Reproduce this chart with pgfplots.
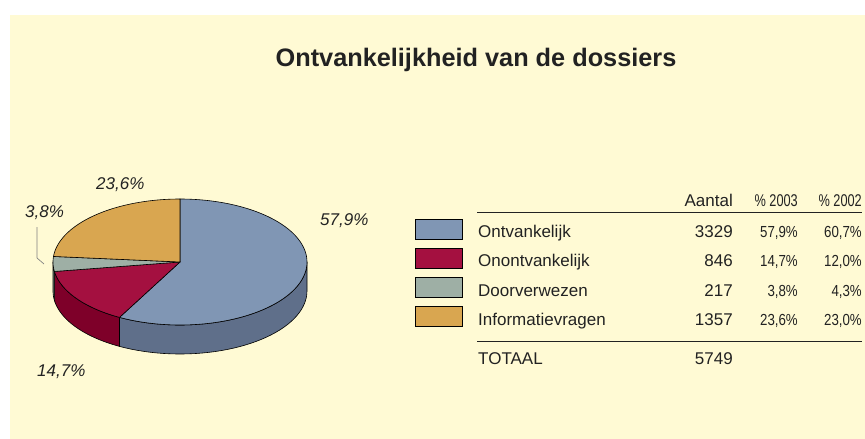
\documentclass[border=0pt]{standalone}
\usepackage{pgfplots}
\pgfplotsset{compat=1.18}
\usepackage{pgfplotstable}
\usepackage{fontspec}
\setmainfont{Liberation Sans}
\newfontfamily\condA[FakeStretch=0.75]{Liberation Sans}
\newfontfamily\condB[FakeStretch=0.83]{Liberation Sans}

\definecolor{bg}{RGB}{255,250,212}
\definecolor{cblue}{RGB}{128,150,180}
\definecolor{cblueD}{RGB}{95,111,138}
\definecolor{cred}{RGB}{164,16,64}
\definecolor{credD}{RGB}{126,0,41}
\definecolor{cgray}{RGB}{158,175,165}
\definecolor{cgrayD}{RGB}{110,125,115}
\definecolor{corange}{RGB}{217,166,80}
\definecolor{txt}{RGB}{34,34,34}

\pgfplotstableread{
name count p2003 p2002
Ontvankelijk 3329 57.9 60.7
Onontvankelijk 846 14.7 12.0
Doorverwezen 217 3.8 4.3
Informatievragen 1357 23.6 23.0
}\datatable

\def\cx{180}
\def\cy{262}
\def\rx{127}
\def\ry{63}
\def\dep{29}

\pgfplotstablegetelem{0}{p2003}\of\datatable \let\pA\pgfplotsretval
\pgfplotstablegetelem{1}{p2003}\of\datatable \let\pB\pgfplotsretval
\pgfplotstablegetelem{2}{p2003}\of\datatable \let\pC\pgfplotsretval
\pgfplotstablegetelem{3}{p2003}\of\datatable \let\pD\pgfplotsretval
\pgfmathsetmacro\aA{90-3.6*\pA}
\pgfmathsetmacro\aB{\aA-3.6*\pB}
\pgfmathsetmacro\aC{\aB-3.6*\pC}
\pgfmathsetmacro\aD{\aC-3.6*\pD}

\begin{document}%
\begin{tikzpicture}[every node/.append style={inner sep=0pt}]
\begin{axis}[width=865pt, height=439pt, scale only axis,
  xmin=0, xmax=865, ymin=0, ymax=439, y dir=reverse,
  hide axis, clip=false,
  declare function={angf(\t,\a,\b)=\a+(\b-\a)*min(\t,1)-(\b-\a)*max(min(\t,3)-2,0);
                    offf(\t)=\dep*(min(max(\t-1,0),1)-max(\t-3,0));}]
\fill[white] (rel axis cs:0,0) rectangle (rel axis cs:1,1);
\fill[bg] (axis cs:10,15) rectangle (axis cs:865,439);

% side faces
\addplot[fill=cblueD, draw=black, line width=0.6pt, variable=\t, domain=0:4, samples=161]
  ({\cx+\rx*cos(angf(\t,\aA,0))},{\cy+offf(\t)-\ry*sin(angf(\t,\aA,0))}) -- cycle;
\addplot[fill=credD, draw=black, line width=0.6pt, variable=\t, domain=0:4, samples=161]
  ({\cx+\rx*cos(angf(\t,\aB,\aA))},{\cy+offf(\t)-\ry*sin(angf(\t,\aB,\aA))}) -- cycle;
\addplot[fill=cgrayD, draw=black, line width=0.6pt, variable=\t, domain=0:4, samples=41]
  ({\cx+\rx*cos(angf(\t,-180,\aB))},{\cy+offf(\t)-\ry*sin(angf(\t,-180,\aB))}) -- cycle;

% top faces
\addplot[fill=cblue, draw=black, line width=0.6pt, domain=\aA:90, samples=120] ({\cx+\rx*cos(x)},{\cy-\ry*sin(x)}) -- (axis cs:\cx,\cy) -- cycle;
\addplot[fill=cred, draw=black, line width=0.6pt, domain=\aB:\aA, samples=50] ({\cx+\rx*cos(x)},{\cy-\ry*sin(x)}) -- (axis cs:\cx,\cy) -- cycle;
\addplot[fill=cgray, draw=black, line width=0.6pt, domain=\aC:\aB, samples=20] ({\cx+\rx*cos(x)},{\cy-\ry*sin(x)}) -- (axis cs:\cx,\cy) -- cycle;
\addplot[fill=corange, draw=black, line width=0.6pt, domain=\aD:\aC, samples=60] ({\cx+\rx*cos(x)},{\cy-\ry*sin(x)}) -- (axis cs:\cx,\cy) -- cycle;

% leader line
\addplot[draw=gray, line width=0.7pt] coordinates {(37,227) (37,258) (44,264)};

% pie labels
\node[anchor=base west, text=txt, font=\fontsize{17}{20}\selectfont\itshape] at (axis cs:320,225) {57,9\%};
\node[anchor=base west, text=txt, font=\fontsize{17}{20}\selectfont\itshape] at (axis cs:96,189) {23,6\%};
\node[anchor=base west, text=txt, font=\fontsize{17}{20}\selectfont\itshape] at (axis cs:25,217) {3,8\%};
\node[anchor=base west, text=txt, font=\fontsize{17}{20}\selectfont\itshape] at (axis cs:37,376) {14,7\%};

% title
\node[anchor=base, text=txt, font=\fontsize{25.3}{29}\selectfont\bfseries] at (axis cs:476,66) {Ontvankelijkheid van de dossiers};

% table
\addplot[draw=txt, line width=0.8pt] coordinates {(477,212) (862,212)};
\addplot[draw=txt, line width=0.8pt] coordinates {(477,341) (862,341)};
\node[anchor=base east, text=txt, font=\fontsize{17}{20}\selectfont] at (axis cs:733,206) {Aantal};
\node[anchor=base east, text=txt, font=\fontsize{17}{20}\selectfont\condA] at (axis cs:798,206) {\% 2003};
\node[anchor=base east, text=txt, font=\fontsize{17}{20}\selectfont\condA] at (axis cs:862,206) {\% 2002};

\addplot[fill=cblue, draw=black, line width=1pt] coordinates {(415,219) (462,219) (462,239) (415,239)} -- cycle;
\addplot[fill=cred, draw=black, line width=1pt] coordinates {(415,248) (462,248) (462,268) (415,268)} -- cycle;
\addplot[fill=cgray, draw=black, line width=1pt] coordinates {(415,277) (462,277) (462,297) (415,297)} -- cycle;
\addplot[fill=corange, draw=black, line width=1pt] coordinates {(415,306) (462,306) (462,326) (415,326)} -- cycle;

\node[anchor=base west, text=txt, font=\fontsize{17}{20}\selectfont] at (axis cs:478,237) {Ontvankelijk};
\node[anchor=base west, text=txt, font=\fontsize{17}{20}\selectfont] at (axis cs:478,266.5) {Onontvankelijk};
\node[anchor=base west, text=txt, font=\fontsize{17}{20}\selectfont] at (axis cs:478,296) {Doorverwezen};
\node[anchor=base west, text=txt, font=\fontsize{17}{20}\selectfont] at (axis cs:478,325.5) {Informatievragen};
\node[anchor=base west, text=txt, font=\fontsize{17}{20}\selectfont] at (axis cs:478,364) {TOTAAL};

\node[anchor=base east, text=txt, font=\fontsize{17}{20}\selectfont] at (axis cs:733,237) {3329};
\node[anchor=base east, text=txt, font=\fontsize{17}{20}\selectfont] at (axis cs:733,266.5) {846};
\node[anchor=base east, text=txt, font=\fontsize{17}{20}\selectfont] at (axis cs:733,296) {217};
\node[anchor=base east, text=txt, font=\fontsize{17}{20}\selectfont] at (axis cs:733,325.5) {1357};
\node[anchor=base east, text=txt, font=\fontsize{17}{20}\selectfont] at (axis cs:733,364) {5749};

\node[anchor=base east, text=txt, font=\fontsize{16}{20}\selectfont\condB] at (axis cs:798,237) {57,9\%};
\node[anchor=base east, text=txt, font=\fontsize{16}{20}\selectfont\condB] at (axis cs:798,266.5) {14,7\%};
\node[anchor=base east, text=txt, font=\fontsize{16}{20}\selectfont\condB] at (axis cs:798,296) {3,8\%};
\node[anchor=base east, text=txt, font=\fontsize{16}{20}\selectfont\condB] at (axis cs:798,325.5) {23,6\%};
\node[anchor=base east, text=txt, font=\fontsize{16}{20}\selectfont\condB] at (axis cs:862,237) {60,7\%};
\node[anchor=base east, text=txt, font=\fontsize{16}{20}\selectfont\condB] at (axis cs:862,266.5) {12,0\%};
\node[anchor=base east, text=txt, font=\fontsize{16}{20}\selectfont\condB] at (axis cs:862,296) {4,3\%};
\node[anchor=base east, text=txt, font=\fontsize{16}{20}\selectfont\condB] at (axis cs:862,325.5) {23,0\%};
\end{axis}
\pgfresetboundingbox
\useasboundingbox (current axis.south west) rectangle (current axis.north east);
\end{tikzpicture}%
\end{document}
